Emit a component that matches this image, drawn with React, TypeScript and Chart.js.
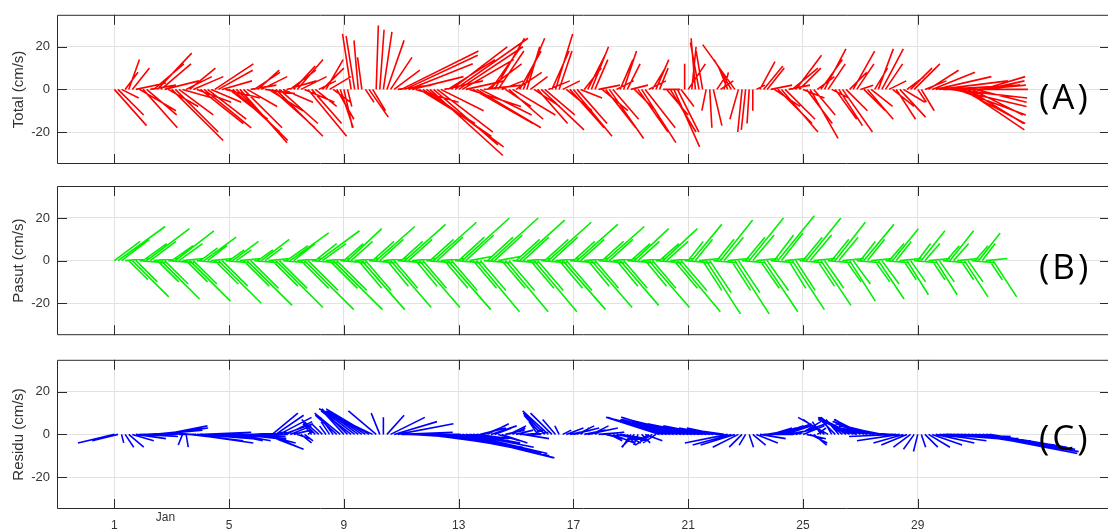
import React, { useEffect, useRef } from "react";
import { Chart, registerables } from "chart.js";

Chart.register(...registerables);

// ---- time axis ----
const START_DAY = 1; // Jan 1, 00:00
const STEP_DAYS = 3 / 24; // one stick every 3 hours
const X_TICKS = [1, 5, 9, 13, 17, 21, 25, 29];
const X_TICK_LABELS = ["1", "5", "9", "13", "17", "21", "25", "29"];
const Y_TICKS = [-20, 0, 20];
const MONTH_LABEL = "Jan";

// ---- Total current (cm/s), east (u) and north (v) components, 8 per day ----
const TOTAL_U = [
  15, 12, 8, 6, 5, 8, 14, 17,
  16, 14, 12, 14, 16, 14, 16, 14,
  24, 20, 16, 14, 12, 12, 14, 16,
  20, 22, 18, 14, 18, 16, 14, 16,
  18, 22, 24, 22, 18, 14, 12, 12,
  10, 12, 14, 16, 20, 22, 18, 14,
  14, 12, 10, 12, 12, 14, 18, 14,
  10, 8, 10, 8, 10, 8, 8, 6,
  4, 2, -4, -4, -2, -2, 4, 9,
  6, 1, 2, 4, 8, 10, 12, 16,
  36, 34, 30, 24, 20, 26, 32, 36,
  34, 30, 26, 20, 18, 22, 26, 34,
  30, 24, 18, 24, 28, 30, 24, 18,
  16, 14, 14, 12, 10, 12, 16, 20,
  12, 10, 10, 6, 8, 12, 14, 20,
  14, 10, 8, 8, 6, 8, 12, 16,
  18, 14, 10, 8, 8, 8, 6, 10,
  12, 14, 16, 12, 8, 6, 6, 6,
  8, 10, 14, 16, 14, 8, 6, 6,
  4, 8, 10, 12, 12, 10, 6, 0,
  8, 2, -2, -4, -3, -2, 1, 4,
  4, 6, 2, -4, -8, -15, -4, -2,
  -2, -1, 0, 4, 7, 9, 8, 10,
  12, 16, 17, 14, 10, 12, 12, 10,
  10, 12, 13, 10, 8, 10, 10, 8,
  8, 10, 11, 14, 10, 8, 10, 8,
  6, 10, 12, 10, 6, 7, 10, 8,
  8, 10, 9, 12, 10, 8, 10, 12,
  4, 6, 10, 14, 20, 26, 32, 36,
  38, 36, 34, 32, 30, 28, 26, 24,
  24, 22, 20, 18,
];
const TOTAL_V = [
  -17, -12, -4, 8, 14, 10, 3, -10,
  -18, -12, 2, 12, 17, 12, 4, -8,
  -24, -20, -12, -4, 6, 10, 6, -6,
  -16, -18, -14, -6, 12, 9, 4, -4,
  -14, -20, -24, -25, -18, -8, 2, 8,
  9, 6, -2, -10, -18, -22, -16, -6,
  4, 9, 11, 14, 6, -6, -22, -16,
  -8, 4, 10, 14, 6, -6, -14, -18,
  -18, -8, 26, 25, 23, 15, -6, -13,
  -10, 30, 28, 27, 23, 15, 9, 2,
  18, 16, 12, 6, -6, -16, -22, -27,
  -31, -26, -20, -10, 4, 14, 20, 24,
  20, 14, 4, -8, -16, -18, -12, 2,
  12, 20, 24, 18, 4, -8, -14, -12,
  8, 18, 24, 20, 6, -8, -16, -19,
  -12, 4, 18, 26, 18, 4, -10, -18,
  -22, -16, -4, 10, 16, 20, 14, 2,
  -10, -18, -23, -14, 4, 14, 18, 12,
  2, -10, -20, -25, -18, 4, 10, 14,
  10, 0, -12, -20, -27, -20, -8, 12,
  12, 20, 24, 22, 18, -10, -18, -17,
  6, 4, 8, 10, 14, 21, -14, -20,
  -19, -16, -10, 2, 13, 11, 10, 2,
  -8, -16, -20, -14, 2, 10, 16, 10,
  -4, -16, -23, -12, 6, 14, 19, 12,
  -4, -14, -17, -20, -10, 8, 18, 12,
  2, -10, -14, -8, 10, 19, 19, 12,
  4, -8, -14, -13, -6, 6, 10, 12,
  -6, -10, 4, 9, 8, 6, 4, 2,
  0, -4, -8, -12, -16, -19, -16, -12,
  -6, 2, 6, 4,
];

// ---- Tidal current (Pasut) ----
const PASUT_U = [
  12, 22, 13, 11, 9, 17, 10, 12,
  11, 20, 12, 11, 10, 18, 11, 12,
  10, 18, 11, 10, 10, 19, 11, 11,
  8, 15, 9, 10, 11, 20, 12, 11,
  7, 12, 7, 10, 12, 21, 13, 11,
  7, 13, 8, 10, 12, 22, 13, 11,
  10, 18, 10, 11, 13, 23, 14, 12,
  10, 19, 11, 11, 13, 23, 14, 12,
  9, 16, 10, 11, 11, 20, 12, 12,
  10, 18, 11, 11, 10, 19, 11, 12,
  10, 19, 11, 11, 10, 19, 11, 12,
  11, 20, 12, 11, 11, 20, 12, 12,
  12, 22, 13, 11, 11, 20, 12, 12,
  12, 22, 13, 11, 11, 20, 12, 12,
  11, 21, 12, 11, 11, 20, 12, 12,
  11, 20, 12, 11, 11, 20, 12, 12,
  10, 19, 11, 11, 10, 19, 11, 12,
  10, 18, 11, 11, 10, 18, 11, 12,
  9, 16, 10, 11, 10, 19, 11, 12,
  9, 16, 10, 11, 11, 20, 12, 12,
  7, 14, 8, 10, 9, 16, 10, 11,
  8, 15, 9, 10, 9, 16, 10, 11,
  9, 16, 10, 10, 9, 16, 10, 11,
  9, 17, 10, 10, 8, 15, 9, 11,
  9, 16, 10, 10, 8, 14, 9, 11,
  8, 14, 9, 10, 7, 12, 8, 11,
  7, 14, 8, 10, 7, 12, 8, 11,
  7, 12, 7, 10, 6, 10, 7, 11,
  6, 11, 7, 10, 6, 10, 7, 11,
  6, 11, 7, 10, 6, 11, 7, 11,
  6, 10, 6, 10, 6, 11,
];
const PASUT_V = [
  9, 16, 10, 1, -9, -17, -10, -1,
  8, 15, 9, 1, -10, -18, -11, -1,
  7, 14, 8, 1, -10, -19, -11, -1,
  6, 11, 7, 1, -11, -20, -12, -1,
  5, 9, 5, 1, -12, -21, -13, -1,
  5, 10, 6, 1, -12, -22, -13, -1,
  7, 13, 8, 1, -13, -23, -14, -1,
  8, 14, 8, 1, -13, -23, -14, -1,
  8, 15, 9, 1, -13, -23, -14, -1,
  9, 16, 10, 1, -12, -22, -13, -1,
  9, 17, 10, 1, -12, -22, -13, -1,
  10, 18, 11, 1, -13, -23, -14, -1,
  11, 20, 12, 2, -13, -24, -14, -1,
  11, 20, 12, 2, -13, -24, -14, -1,
  10, 19, 11, 1, -13, -24, -14, -1,
  10, 18, 11, 1, -13, -23, -14, -1,
  9, 17, 10, 1, -12, -22, -13, -1,
  9, 16, 10, 1, -12, -21, -13, -1,
  8, 15, 9, 1, -12, -22, -13, -1,
  8, 15, 9, 1, -13, -24, -14, -1,
  9, 17, 10, 1, -14, -25, -15, -1,
  10, 19, 11, 1, -14, -25, -15, -1,
  11, 20, 12, 1, -13, -24, -14, -1,
  12, 21, 13, 1, -13, -23, -14, -1,
  11, 20, 12, 1, -12, -21, -13, -1,
  10, 18, 11, 1, -10, -19, -11, -1,
  9, 17, 10, 1, -10, -18, -11, -1,
  8, 15, 9, 1, -9, -16, -10, -1,
  8, 14, 8, 1, -9, -16, -10, -1,
  7, 14, 8, 1, -9, -17, -10, -1,
  7, 13, 8, 1, -9, -17,
];

// ---- Residual current (Residu) ----
const RESIDU_U = [
  -17, -12, 1, 4, 7, 10, 14, 18,
  15, 17, 19, 20, 21, 22, 20, 16,
  12, 6, 8, -2, 1, 25, 28, 26,
  24, 22, 20, 18, 16, 16, 14, 12,
  12, 14, 16, 18, 20, 18, 16, 15,
  14, 16, 18, 14, 12, 13, 15, 14,
  12, 10, 8, 6, 5, 4, 2, -4,
  -6, -8, -5, -3, -4, -6, -10, -12,
  -10, -12, -14, -13, -15, -16, -17, -20,
  -25, -13, -4, 0, 8, 16, 20, 26,
  24, 26, 30, 32, 34, 35, 36, 37,
  38, 38, 40, 40, 41, 42, 42, 44,
  44, 43, 38, 30, 22, 15, 12, 10,
  10, 12, 8, 10, 12, 9, 8, 6,
  8, 10, 12, 10, 6, 4, -4, -8,
  -10, -12, -10, -6, -2, 4, 8, 10,
  12, 8, 4, 10, 14, 8, 4, 12,
  10, 8, 6, 10, 14, 12, 8, 4,
  -4, -6, -2, 4, 8, -4, -8, -6,
  -25, -26, -24, -22, -24, -26, -28, -30,
  -28, -28, -26, -24, -22, -20, -18, -16,
  -14, -16, -14, -20, -18, -16, -12, -6,
  -3, 2, 6, 10, 12, 14, 12, 10,
  10, 12, 14, 12, 10, 12, 14, 10,
  10, 9, 8, 6, 4, -4, -10, -14,
  -4, -8, -6, -10, -12, -14, -16, -18,
  -12, -14, -16, -18, -18, -20, -20, -22,
  -22, -24, -22, -20, -14, -12, -8, -5,
  -2, 2, 6, 10, 14, 18, 22, 26,
  30, 32, 36, 40, 44, 48, 50, 50,
  48, 46, 44, 40, 36,
];
const RESIDU_V = [
  -4, -3, -4, -6, -6, -3, -2, -1,
  0, 1, 1, 2, 2, 3, 4, 3,
  2, 1, 0, -5, -6, -3, -4, -2,
  0, 1, 0, -1, -1, -2, -2, -2,
  -2, -3, -3, -2, -2, -1, 0, 1,
  0, -4, -7, -6, 10, 9, 8, 5,
  6, 4, 2, -2, -4, -3, 2, 5,
  6, 7, 5, 4, 6, 8, 9, 10,
  11, 12, 11, 10, 11, 11, 11, 12,
  12, 11, 10, 8, 9, 8, 6, 5,
  1, 0, -1, -2, -2, -3, -4, -5,
  -5, -6, -6, -7, -8, -8, -9, -10,
  -11, -11, -9, -6, -4, -2, 3, 4,
  5, 4, 3, -3, -4, 2, 4, 3,
  2, 0, -2, 1, 2, 3, 6, 9,
  10, 11, 10, 7, 4, 2, 3, 2,
  3, 4, 3, 2, 3, 4, 2, 1,
  1, -2, -3, -4, -3, -2, -4, -5,
  -6, -6, -5, -4, -3, -3, -5, -4,
  8, 8, 7, 6, 7, 8, 8, 7,
  7, 6, 5, 5, 4, 4, 3, 3,
  3, 2, 2, -4, -5, -5, -6, -6,
  -5, -6, -5, -4, -2, 0, 2, 3,
  3, 4, 5, 4, 2, 3, 5, 6,
  4, -2, -4, -5, 3, 6, 7, 8,
  7, 8, 7, 8, 8, 7, 8, 7,
  7, 7, 6, 6, 5, 5, 4, 3,
  2, 1, -1, -3, -4, -5, -6, -7,
  -8, -6, -6, -6, -5, -4, -3, -2,
  -1, -2, -3, -4, -5, -6, -7, -8,
  -8, -9, -8, -7, -6,
];

// ---- layout / style ----
const X_MIN = -1;
const X_MAX = 35.7;
const Y_MIN = -35;
const Y_MAX = 35;
const STICK_SCALE = 0.0747; // days of x-axis per cm/s, keeps sticks at their true angle
const TICK_LEN = 10;
const CANVAS_W = 1130;
const FONT = '"Liberation Sans", Arial, sans-serif';
const TEXT_COLOR = "#333333";

type Panel = {
  title: string;
  letter: string;
  color: string;
  u: number[];
  v: number[];
  top: number;
  height: number;
  padTop: number;
  xAxisH: number;
  showX: boolean;
  letterTop: number;
};

const PANELS: Panel[] = [
  { title: "Total (cm/s)", letter: "(A)", color: "#ff0000", u: TOTAL_U, v: TOTAL_V, top: 0, height: 180, padTop: 14, xAxisH: 16, showX: false, letterTop: 78 },
  { title: "Pasut (cm/s)", letter: "(B)", color: "#00f000", u: PASUT_U, v: PASUT_V, top: 170, height: 180, padTop: 16, xAxisH: 13, showX: false, letterTop: 248 },
  { title: "Residu (cm/s)", letter: "(C)", color: "#0000ff", u: RESIDU_U, v: RESIDU_V, top: 345, height: 184, padTop: 14, xAxisH: 20, showX: true, letterTop: 419 },
];

function stickPoints(u: number[], v: number[]) {
  const pts: { x: number; y: number | null }[] = [];
  for (let i = 0; i < u.length; i++) {
    const t = START_DAY + i * STEP_DAYS;
    pts.push({ x: t, y: 0 });
    pts.push({ x: t + u[i] * STICK_SCALE, y: v[i] });
    pts.push({ x: t, y: null });
  }
  return pts;
}

const framePlugin = {
  id: "frame",
  afterDraw(chart: any, _args: any, opts: any) {
    const { ctx, chartArea: a, scales } = chart;
    ctx.save();
    ctx.strokeStyle = "#2b2b2b";
    ctx.lineWidth = 1;
    ctx.beginPath();
    ctx.rect(a.left + 0.5, a.top + 0.5, a.right - a.left - 1, a.bottom - a.top - 1);
    for (const t of X_TICKS) {
      const x = Math.round(scales.x.getPixelForValue(t)) + 0.5;
      ctx.moveTo(x, a.top);
      ctx.lineTo(x, a.top + TICK_LEN);
      ctx.moveTo(x, a.bottom);
      ctx.lineTo(x, a.bottom - TICK_LEN);
    }
    for (const t of Y_TICKS) {
      const y = Math.round(scales.y.getPixelForValue(t)) + 0.5;
      ctx.moveTo(a.left, y);
      ctx.lineTo(a.left + TICK_LEN, y);
      ctx.moveTo(a.right, y);
      ctx.lineTo(a.right - TICK_LEN, y);
    }
    ctx.stroke();
    if (opts && opts.month) {
      ctx.fillStyle = TEXT_COLOR;
      ctx.font = `12px ${FONT}`;
      ctx.textAlign = "center";
      ctx.textBaseline = "top";
      ctx.fillText(MONTH_LABEL, scales.x.getPixelForValue(X_TICKS[0]) + 51, a.bottom + 3);
    }
    ctx.restore();
  },
};

function StickPanel({ p }: { p: Panel }) {
  const ref = useRef<HTMLCanvasElement | null>(null);
  useEffect(() => {
    if (!ref.current) return;
    const chart = new Chart(ref.current, {
      type: "line",
      data: {
        datasets: [
          {
            data: stickPoints(p.u, p.v) as any,
            borderColor: p.color,
            borderWidth: 1.6,
            pointRadius: 0,
            spanGaps: false,
            tension: 0,
            fill: false,
          },
        ],
      },
      options: {
        animation: false,
        responsive: false,
        maintainAspectRatio: false,
        events: [],
        layout: { padding: { top: p.padTop, right: CANVAS_W - 1110, left: 0, bottom: 0 } },
        plugins: {
          legend: { display: false },
          tooltip: { enabled: false },
          frame: { month: p.showX },
        } as any,
        scales: {
          x: {
            type: "linear",
            min: X_MIN,
            max: X_MAX,
            afterBuildTicks: (s: any) => {
              s.ticks = X_TICKS.map((value) => ({ value }));
            },
            afterFit: (s: any) => {
              s.height = p.xAxisH;
            },
            grid: { color: "#e2e2e2", drawTicks: false },
            border: { display: false },
            ticks: {
              display: p.showX,
              padding: 9,
              autoSkip: false,
              maxRotation: 0,
              color: TEXT_COLOR,
              font: { family: FONT, size: 12 },
              callback: (val: any) => {
                const k = X_TICKS.indexOf(Number(val));
                return k >= 0 ? X_TICK_LABELS[k] : "";
              },
            },
          },
          y: {
            min: Y_MIN,
            max: Y_MAX,
            afterBuildTicks: (s: any) => {
              s.ticks = Y_TICKS.map((value) => ({ value }));
            },
            afterFit: (s: any) => {
              s.width = 57;
            },
            grid: { color: "#e2e2e2", drawTicks: false },
            border: { display: false },
            ticks: {
              padding: 7,
              color: TEXT_COLOR,
              font: { family: FONT, size: 13 },
              callback: (val: any) => String(val),
            },
            title: {
              display: true,
              text: p.title,
              color: TEXT_COLOR,
              font: { family: FONT, size: 15 },
              padding: { top: 10, bottom: 0 },
            },
          },
        },
      } as any,
      plugins: [framePlugin as any],
    });
    return () => chart.destroy();
  }, [p]);

  return (
    <canvas
      ref={ref}
      width={CANVAS_W}
      height={p.height}
      style={{ position: "absolute", left: 0, top: p.top, width: CANVAS_W, height: p.height, display: "block" }}
    />
  );
}

export default function App() {
  return (
    <div
      style={{
        position: "fixed",
        left: 0,
        top: 0,
        width: 1108,
        height: 529,
        overflow: "hidden",
        background: "#ffffff",
      }}
    >
      {PANELS.map((p) => (
        <StickPanel key={p.title} p={p} />
      ))}
      {PANELS.map((p) => (
        <div
          key={p.letter}
          style={{
            position: "absolute",
            left: 1039,
            top: p.letterTop,
            fontFamily: '"Open Sans", sans-serif',
            fontSize: 35,
            lineHeight: "35px",
            letterSpacing: 3,
            color: "#000",
            whiteSpace: "nowrap",
          }}
        >
          {p.letter}
        </div>
      ))}
    </div>
  );
}
